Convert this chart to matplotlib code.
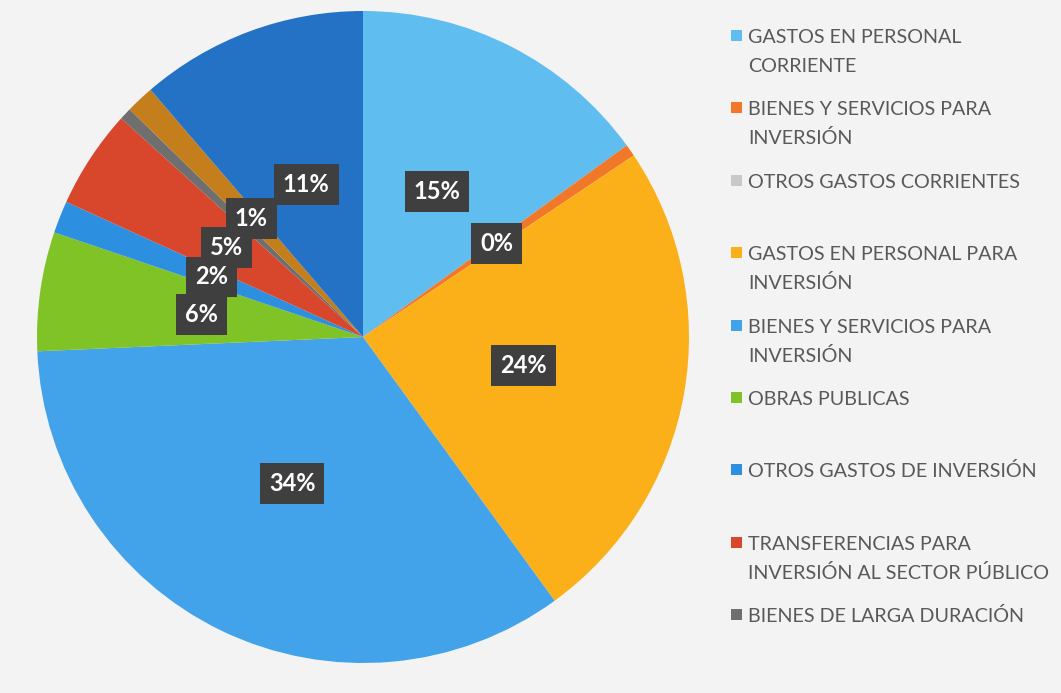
import matplotlib.pyplot as plt
from matplotlib.patches import Rectangle

plt.rcParams['font.family'] = ['Lato', 'DejaVu Sans']

# slices clockwise from the top
categorias = [
    "GASTOS EN PERSONAL\nCORRIENTE",
    "BIENES Y SERVICIOS PARA\nINVERSIÓN",
    "OTROS GASTOS CORRIENTES",
    "GASTOS EN PERSONAL PARA\nINVERSIÓN",
    "BIENES Y SERVICIOS PARA\nINVERSIÓN",
    "OBRAS PUBLICAS",
    "OTROS GASTOS DE INVERSIÓN",
    "TRANSFERENCIAS PARA\nINVERSIÓN AL SECTOR PÚBLICO",
    "BIENES DE LARGA DURACIÓN",
    "",
    "",
]
valores = [15.0, 0.6, 0.0, 24.4, 34.3, 5.9, 1.6, 4.9, 0.6, 1.4, 11.3]
etiquetas = ["15%", "0%", "", "24%", "34%", "6%", "2%", "5%", "", "1%", "11%"]
colores = ["#60bdf0", "#f07828", "#c8c8c8", "#fbb01a", "#42a2ea", "#7fc326",
           "#2d8fe0", "#d8462c", "#6f6f6f", "#c47e1c", "#2372c6"]
n_leyenda = 9

W, H = 1061, 693
fig = plt.figure(figsize=(W / 100, H / 100), dpi=100, facecolor="#f3f3f3")

cx, cy, R = 363, 337, 326
ax = fig.add_axes([(cx - R) / W, (H - cy - R) / H, 2 * R / W, 2 * R / H])
wedges, texts = ax.pie(valores, labels=etiquetas, colors=colores,
                       startangle=90, counterclock=False, labeldistance=0.5,
                       wedgeprops=dict(linewidth=0))
for i, t in enumerate(texts):
    t.set_ha("center")
    t.set_va("center")
    t.set_color("white")
    t.set_fontsize(17)
    t.set_fontweight("bold")
    t.set_zorder(20 - i)  # earlier labels sit on top, as in the original
    if t.get_text():
        t.set_bbox(dict(boxstyle="square,pad=0.38", fc="#3f3f3f", ec="none"))
ax.set_xlim(-1, 1)
ax.set_ylim(-1, 1)
ax.set_aspect("equal")
ax.axis("off")

# legend drawn by hand, Excel-style fixed step
x_sq, x_txt = 731, 748
top0, paso, interlinea = 43, 72.4, 29
for i in range(n_leyenda):
    base = top0 + i * paso
    fig.patches.append(Rectangle(((x_sq) / W, 1 - (base - 2) / H), 11 / W, 11 / H,
                                 transform=fig.transFigure, fc=colores[i], ec="none"))
    for j, linea in enumerate(categorias[i].split("\n")):
        fig.text(x_txt / W, 1 - (base + j * interlinea) / H, linea,
                 fontsize=14.2, color="#595959", va="baseline", ha="left")

fig.savefig("out.png", dpi=100, facecolor=fig.get_facecolor())
